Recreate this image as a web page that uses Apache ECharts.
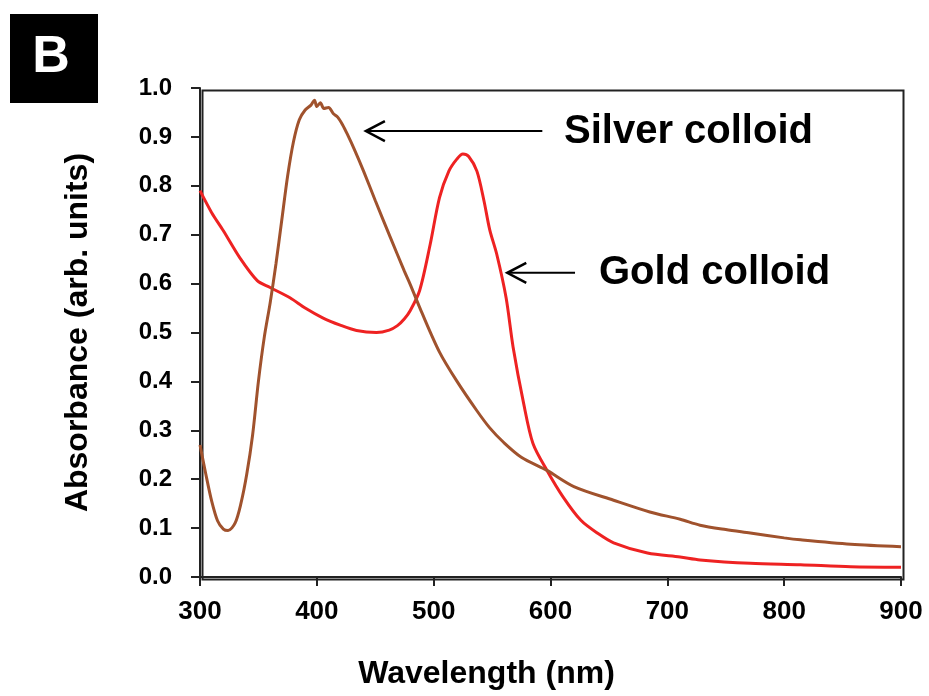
<!DOCTYPE html>
<html>
<head>
<meta charset="utf-8">
<script src="https://cdn.jsdelivr.net/npm/echarts@6/dist/echarts.min.js"></script>
<style>
    html, body { margin: 0; padding: 0; background: #fff; }
    #chart { width: 929px; height: 696px; }
</style>
</head>
<body>
<div id="chart"></div>
<script>
// silver colloid spectrum (nm, absorbance)
var silverWl = [300, 305, 310, 315, 320, 324, 330, 335, 340, 345, 350, 355, 360, 365, 370, 375, 380, 385, 390, 395, 398, 400, 403, 406, 410, 414, 418, 422, 426, 432, 440, 450, 463, 475, 480, 490, 505, 520, 537, 548, 560, 575, 597, 620, 654, 685, 711, 728, 750, 771, 800, 814, 857, 900];
var silverAbs = [0.27, 0.21, 0.155, 0.115, 0.098, 0.095, 0.11, 0.15, 0.21, 0.29, 0.40, 0.49, 0.56, 0.64, 0.73, 0.82, 0.89, 0.935, 0.955, 0.965, 0.975, 0.962, 0.97, 0.958, 0.96, 0.948, 0.94, 0.925, 0.906, 0.875, 0.83, 0.77, 0.694, 0.625, 0.598, 0.54, 0.46, 0.40, 0.34, 0.305, 0.275, 0.245, 0.218, 0.185, 0.157, 0.133, 0.118, 0.106, 0.097, 0.09, 0.08, 0.076, 0.067, 0.062];

// gold colloid spectrum (nm, absorbance)
var goldWl = [300, 310, 320, 334, 349, 360, 377, 390, 405, 420, 434, 451, 462, 469, 475, 480, 488, 497, 505, 513, 520, 525, 530, 537, 543, 548, 554, 562, 568, 577, 585, 597, 611, 626, 640, 654, 683, 711, 728, 771, 814, 857, 900];
var goldAbs = [0.79, 0.745, 0.708, 0.653, 0.606, 0.592, 0.571, 0.55, 0.53, 0.515, 0.504, 0.50, 0.505, 0.514, 0.528, 0.545, 0.586, 0.68, 0.776, 0.83, 0.855, 0.865, 0.86, 0.83, 0.77, 0.71, 0.66, 0.571, 0.47, 0.355, 0.273, 0.218, 0.163, 0.116, 0.09, 0.07, 0.049, 0.041, 0.035, 0.028, 0.025, 0.021, 0.02];

// annotation arrows: [tail nm, head nm, absorbance]
var arrowTail = [593, 621];
var arrowHead = [442, 563];
var arrowAbs = [0.912, 0.622];

var silverColor = '#A0522D';
var goldColor = '#EE2222';
var font = 'Liberation Sans, Arial, sans-serif';

function pairs(x, y) {
    var out = [];
    for (var i = 0; i < x.length; i++) out.push([x[i], y[i]]);
    return out;
}

var arrowData = [];
for (var i = 0; i < arrowTail.length; i++) {
    arrowData.push([arrowTail[i], arrowHead[i], arrowAbs[i]]);
}

// shaft plus open chevron head, placed through the axes
function renderArrow(params, api) {
    var tail = api.coord([api.value(0), api.value(2)]);
    var head = api.coord([api.value(1), api.value(2)]);
    return {
        type: 'group',
        children: [
            {
                type: 'line',
                shape: { x1: head[0] + 1, y1: head[1], x2: tail[0], y2: tail[1] },
                style: { stroke: '#000', lineWidth: 2 }
            },
            {
                type: 'polyline',
                shape: { points: [[head[0] + 19, head[1] - 10], [head[0], head[1]], [head[0] + 19, head[1] + 10]] },
                style: { stroke: '#000', lineWidth: 2.5, fill: null }
            }
        ]
    };
}

var chart = echarts.init(document.getElementById('chart'));
var option = {
    animation: false,
    backgroundColor: '#fff',
    grid: { left: 200, right: 28, top: 88, bottom: 119 },
    xAxis: {
        type: 'value',
        min: 300,
        max: 900,
        interval: 100,
        name: 'Wavelength (nm)',
        nameLocation: 'middle',
        nameGap: 81,
        nameTextStyle: {
            color: '#000', fontSize: 32, fontWeight: 'bold', fontFamily: font,
            padding: [0, 128, 0, 0]
        },
        axisLine: { show: true, lineStyle: { color: '#222', width: 2 } },
        axisTick: { show: true, inside: false, length: 9, lineStyle: { color: '#222', width: 2 } },
        axisLabel: { color: '#000', fontSize: 26, fontWeight: 'bold', fontFamily: font, margin: 22 },
        splitLine: { show: false }
    },
    yAxis: {
        type: 'value',
        min: 0,
        max: 1,
        interval: 0.1,
        name: 'Absorbance (arb. units)',
        nameLocation: 'middle',
        nameGap: 106,
        nameTextStyle: { color: '#000', fontSize: 32, fontWeight: 'bold', fontFamily: font },
        axisLine: { show: true, lineStyle: { color: '#222', width: 2 } },
        axisTick: { show: true, inside: false, length: 9, lineStyle: { color: '#222', width: 2 } },
        axisLabel: {
            color: '#000', fontSize: 24, fontWeight: 'bold', fontFamily: font, margin: 28,
            formatter: function (v) { return v.toFixed(1); }
        },
        splitLine: { show: false }
    },
    graphic: [
        // box round the plot
        { type: 'rect', left: 200, top: 88, shape: { width: 701, height: 489 }, style: { fill: 'none', stroke: '#222', lineWidth: 2 }, silent: true },
        // panel letter
        { type: 'rect', left: 10, top: 14, shape: { width: 88, height: 89 }, style: { fill: '#000' } },
        { type: 'text', x: 51, y: 58, style: { text: 'B', fill: '#fff', font: 'bold 52px ' + font, textAlign: 'center', textVerticalAlign: 'middle' } },
        { type: 'text', x: 564, y: 132, style: { text: 'Silver colloid', fill: '#000', font: 'bold 40px ' + font, textVerticalAlign: 'middle' } },
        { type: 'text', x: 599, y: 273, style: { text: 'Gold colloid', fill: '#000', font: 'bold 40px ' + font, textVerticalAlign: 'middle' } }
    ],
    series: [
        {
            name: 'Gold colloid',
            type: 'line',
            data: pairs(goldWl, goldAbs),
            smooth: 0.3,
            showSymbol: false,
            lineStyle: { color: goldColor, width: 3 },
            z: 2
        },
        {
            name: 'Silver colloid',
            type: 'line',
            data: pairs(silverWl, silverAbs),
            smooth: 0.3,
            showSymbol: false,
            lineStyle: { color: silverColor, width: 3 },
            z: 3
        },
        {
            name: 'arrows',
            type: 'custom',
            data: arrowData,
            renderItem: renderArrow,
            silent: true,
            z: 4
        }
    ]
};
chart.setOption(option);
</script>
</body>
</html>
